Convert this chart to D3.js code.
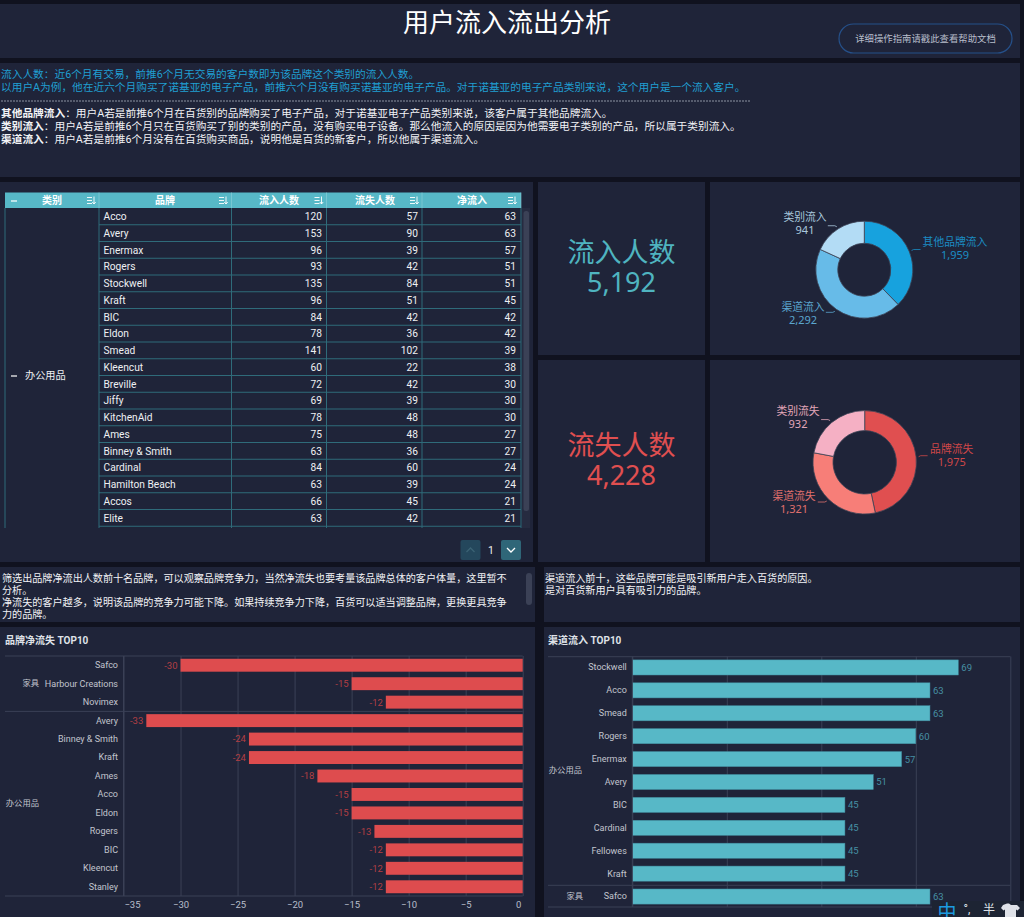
<!DOCTYPE html>
<html lang="zh">
<head>
    <meta charset="UTF-8">
    <title>用户流入流出分析</title>
    <script src="https://d3js.org/d3.v7.min.js"></script>
    <style>
    html, body { margin: 0; background: #10121f; overflow: hidden; }
    svg { display: block; }
    text { font-family: Roboto, "Noto Sans CJK SC", sans-serif; }
    .domain { display: none; }
    </style>
</head>
<body>
<svg id="board" width="1024" height="917"></svg>
<script>
// table
var tableHeaders = ["类别", "品牌", "流入人数", "流失人数", "净流入"];
var tableBrands = ["Acco", "Avery", "Enermax", "Rogers", "Stockwell", "Kraft", "BIC", "Eldon", "Smead", "Kleencut", "Breville", "Jiffy", "KitchenAid", "Ames", "Binney & Smith", "Cardinal", "Hamilton Beach", "Accos", "Elite"];
var tableIn = [120, 153, 96, 93, 135, 96, 84, 78, 141, 60, 72, 69, 78, 75, 63, 84, 63, 66, 63];
var tableOut = [57, 90, 39, 42, 84, 51, 42, 36, 102, 22, 42, 39, 48, 48, 36, 60, 39, 45, 42];
var tableNet = [63, 63, 57, 51, 51, 45, 42, 42, 39, 38, 30, 30, 30, 27, 27, 24, 24, 21, 21];

// donuts
var inLabels = ["其他品牌流入", "渠道流入", "类别流入"];
var inValues = [1959, 2292, 941];
var outLabels = ["品牌流失", "渠道流失", "类别流失"];
var outValues = [1975, 1321, 932];

// bar charts
var lossBrands = ["Safco", "Harbour Creations", "Novimex", "Avery", "Binney & Smith", "Kraft", "Ames", "Acco", "Eldon", "Rogers", "BIC", "Kleencut", "Stanley"];
var lossValues = [-30, -15, -12, -33, -24, -24, -18, -15, -15, -13, -12, -12, -12];
var lossTicks = [-35, -30, -25, -20, -15, -10, -5, 0];
var channelBrands = ["Stockwell", "Acco", "Smead", "Rogers", "Enermax", "Avery", "BIC", "Cardinal", "Fellowes", "Kraft", "Safco"];
var channelValues = [69, 63, 63, 60, 57, 51, 45, 45, 45, 45, 63];
var channelTicks = [0, 20, 40, 60, 80];

var svg = d3.select("#board");
var panelColor = "#1f2439";
var notoFont = '"Noto Sans", "Noto Sans CJK SC", sans-serif';
var fmt = d3.format(",");

// background panels
[[0, 4, 1020, 54], [0, 63, 1020, 114], [0, 182, 533, 380], [538, 182, 167, 173], [710, 182, 310, 173],
 [538, 360, 167, 202], [710, 360, 310, 202], [0, 567, 535, 55], [544, 567, 476, 55], [0, 627, 535, 290], [544, 627, 476, 290]]
.forEach(function (p) {
    svg.append("rect").attr("x", p[0]).attr("y", p[1]).attr("width", p[2]).attr("height", p[3]).attr("fill", panelColor);
});

function label(x, y, str, size, color, anchor, weight) {
    return svg.append("text").attr("x", x).attr("y", y).attr("dy", "0.36em")
        .attr("font-size", size).attr("fill", color)
        .attr("text-anchor", anchor || "start").attr("font-weight", weight || "normal")
        .text(str);
}

// header
label(507, 23, "用户流入流出分析", 26, "#ffffff", "middle");
svg.append("rect").attr("x", 839).attr("y", 24).attr("width", 173).attr("height", 29).attr("rx", 14.5)
    .attr("fill", "none").attr("stroke", "#25508a").attr("stroke-width", 1.2);
label(925.5, 38.5, "详细操作指南请戳此查看帮助文档", 9.4, "#b8becb", "middle");

// explanation
label(1, 74, "流入人数\uFF1A近6个月有交易\uFF0C前推6个月无交易的客户数即为该品牌这个类别的流入人数。", 10.7, "#1f9fd2");
label(1, 87.5, "以用户A为例\uFF0C他在近六个月购买了诺基亚的电子产品\uFF0C前推六个月没有购买诺基亚的电子产品。对于诺基亚的电子产品类别来说\uFF0C这个用户是一个流入客户。", 10.7, "#1f9fd2");
svg.append("line").attr("x1", 1).attr("x2", 750).attr("y1", 101).attr("y2", 101)
    .attr("stroke", "#8d93a3").attr("stroke-dasharray", "2 1");
[["其他品牌流入", "\uFF1A用户A若是前推6个月在百货别的品牌购买了电子产品\uFF0C对于诺基亚电子产品类别来说\uFF0C该客户属于其他品牌流入。", 113],
 ["类别流入", "\uFF1A用户A若是前推6个月只在百货购买了别的类别的产品\uFF0C没有购买电子设备。那么他流入的原因是因为他需要电子类别的产品\uFF0C所以属于类别流入。", 126],
 ["渠道流入", "\uFF1A用户A若是前推6个月没有在百货购买商品\uFF0C说明他是百货的新客户\uFF0C所以他属于渠道流入。", 139]]
.forEach(function (row) {
    var t = label(1, row[2], "", 10.7, "#f2f3f6");
    t.append("tspan").attr("font-weight", "bold").text(row[0]);
    t.append("tspan").text(row[1]);
});

// table
var colEdges = [5, 99, 231.5, 326.5, 422, 521];
var headerTop = 192.5, headerBottom = 208, rowH = 16.75, tableBottom = 528;
var lineColor = "#2f6b7a";
var rowY = d3.scaleLinear().domain([0, 1]).range([headerBottom, headerBottom + rowH]);

svg.append("rect").attr("x", colEdges[0]).attr("y", headerTop).attr("width", colEdges[5] - colEdges[0]).attr("height", headerBottom - headerTop).attr("fill", "#57b8c7");
var headCenter = [52, 165, 279, 375, 472];
var iconX = [91, 223, 318.5, 414, 512];
tableHeaders.forEach(function (h, i) {
    label(headCenter[i], 200.5, h, 10, "#ffffff", "middle", "bold");
    // sort icon
    svg.append("path").attr("d", "M" + (iconX[i] - 4) + " 197.5h5M" + (iconX[i] - 4) + " 200.5h5M" + (iconX[i] - 4) + " 203.5h5M" + (iconX[i] + 3) + " 196.5v7.5m-1.7 -2l1.7 2l1.7 -2")
        .attr("stroke", "#ffffff").attr("stroke-width", 0.9).attr("fill", "none");
    if (i < 5) svg.append("line").attr("x1", colEdges[i + 1]).attr("x2", colEdges[i + 1]).attr("y1", headerTop).attr("y2", headerBottom).attr("stroke", "#8fd2dc").attr("stroke-width", 0.6);
});
svg.append("line").attr("x1", 11).attr("x2", 17).attr("y1", 201).attr("y2", 201).attr("stroke", "#ffffff").attr("stroke-width", 1.2);

var rows = svg.append("g").selectAll("g").data(tableBrands).join("g");
rows.append("line").attr("x1", colEdges[1]).attr("x2", colEdges[5])
    .attr("y1", function (d, i) { return rowY(i + 1); }).attr("y2", function (d, i) { return rowY(i + 1); })
    .attr("stroke", lineColor);
rows.append("text").attr("x", 103.5).attr("y", function (d, i) { return rowY(i + 0.5); }).attr("dy", "0.36em")
    .attr("font-size", 10.2).attr("fill", "#eef0f3").text(function (d) { return d; });
[[tableIn, 322], [tableOut, 418], [tableNet, 516]].forEach(function (col) {
    svg.append("g").selectAll("text").data(col[0]).join("text")
        .attr("x", col[1]).attr("y", function (d, i) { return rowY(i + 0.5); }).attr("dy", "0.36em")
        .attr("font-size", 10.2).attr("fill", "#eef0f3").attr("text-anchor", "end").text(function (d) { return d; });
});
colEdges.forEach(function (x) {
    svg.append("line").attr("x1", x).attr("x2", x).attr("y1", headerBottom).attr("y2", tableBottom).attr("stroke", lineColor);
});
svg.append("line").attr("x1", 11).attr("x2", 17).attr("y1", 376).attr("y2", 376).attr("stroke", "#ffffff").attr("stroke-width", 1.2);
label(25, 375.5, "办公用品", 10.2, "#eef0f3");
svg.append("rect").attr("x", 522).attr("y", 208).attr("width", 8).attr("height", 320).attr("fill", "#262b40");
svg.append("rect").attr("x", 523.5).attr("y", 211).attr("width", 5.5).attr("height", 300).attr("rx", 2.5).attr("fill", "#3b4156");

// pager
svg.append("rect").attr("x", 460.5).attr("y", 540).attr("width", 20).attr("height", 20).attr("rx", 2).attr("fill", "#24475c");
svg.append("path").attr("d", "M466.5 552l4 -4l4 4").attr("fill", "none").attr("stroke", "#3b6274").attr("stroke-width", 1.3);
label(491, 550, "1", 10.5, "#eef0f3", "middle");
svg.append("rect").attr("x", 501).attr("y", 540).attr("width", 20).attr("height", 20).attr("rx", 2).attr("fill", "#2f6678");
svg.append("path").attr("d", "M507 548l4 4l4 -4").attr("fill", "none").attr("stroke", "#ffffff").attr("stroke-width", 1.3);

// KPI
label(621.5, 252, "流入人数", 27, "#4fb4c0", "middle");
label(621.5, 282, fmt(d3.sum(inValues)), 27, "#4fb4c0", "middle").style("font-family", notoFont);
label(621.5, 445, "流失人数", 27, "#e04f50", "middle");
label(621.5, 475, fmt(d3.sum(outValues)), 27, "#e04f50", "middle").style("font-family", notoFont);

// donut
function donut(opts) {
    var g = svg.append("g").attr("transform", "translate(" + opts.cx + "," + opts.cy + ")");
    var pie = d3.pie().sort(null)(opts.values);
    var arc = d3.arc().innerRadius(opts.inner).outerRadius(opts.outer);
    g.selectAll("path.slice").data(pie).join("path").attr("class", "slice")
        .attr("d", arc).attr("fill", function (d, i) { return opts.colors[i]; })
        .attr("stroke", "#3c4256").attr("stroke-width", 0.8);
    pie.forEach(function (d, i) {
        var mid = (d.startAngle + d.endAngle) / 2;
        var r = opts.outer + 2.5;
        var sx = r * Math.sin(mid), sy = -r * Math.cos(mid);
        var side = sx > 0 ? 1 : -1;
        g.append("path").attr("d", "M" + sx + " " + sy + "L" + (sx + side * 2) + " " + (sy + (sy < 0 ? -1 : 1)) + "h" + side * 7)
            .attr("fill", "none").attr("stroke", opts.muted[i]).attr("stroke-width", 0.8);
        label(opts.pos[i][0], opts.pos[i][1], opts.labels[i], 10.8, opts.muted[i], "middle");
        label(opts.pos[i][0], opts.pos[i][1] + 13, fmt(opts.values[i]), 11, opts.muted[i], "middle").style("font-family", notoFont);
    });
}
donut({ cx: 864.3, cy: 269.7, inner: 26.5, outer: 48.5, values: inValues, labels: inLabels,
    colors: ["#17a2de", "#67bbe8", "#b3dcf5"], muted: ["#1b8cc4", "#5ba6cf", "#a9c8dd"],
    pos: [[955, 242], [803, 307], [805, 217]] });
donut({ cx: 864.7, cy: 462.3, inner: 31.7, outer: 51.7, values: outValues, labels: outLabels,
    colors: ["#e04f50", "#f77e78", "#f5b0c4"], muted: ["#cf4748", "#e0706d", "#e2a6b8"],
    pos: [[951.7, 449], [794, 496], [798, 411]] });

// notes above the bars
["筛选出品牌净流出人数前十名品牌\uFF0C可以观察品牌竞争力\uFF0C当然净流失也要考量该品牌总体的客户体量\uFF0C这里暂不", "分析。",
 "净流失的客户越多\uFF0C说明该品牌的竞争力可能下降。如果持续竞争力下降\uFF0C百货可以适当调整品牌\uFF0C更换更具竞争", "力的品牌。"]
.forEach(function (s, i) { label(2, 578 + i * 12, s, 10.1, "#f2f3f6"); });
svg.append("rect").attr("x", 526).attr("y", 573).attr("width", 6).attr("height", 32).attr("rx", 3).attr("fill", "#3b4156");
["渠道流入前十\uFF0C这些品牌可能是吸引新用户走入百货的原因。", "是对百货新用户具有吸引力的品牌。"]
.forEach(function (s, i) { label(545, 578 + i * 12.5, s, 10.1, "#f2f3f6"); });

var axisLine = "#3a4056";

// brand net loss
label(5, 640, "品牌净流失 TOP10", 10, "#dfe2e8", "start", "bold");
var lx = d3.scaleLinear().domain([-35, 0]).range([123.5, 522.7]);
var ly = d3.scaleBand().domain(lossBrands).range([656, 896]).paddingInner(0.3).paddingOuter(0.15);
var lossAxis = svg.append("g").attr("transform", "translate(0,896)")
    .call(d3.axisBottom(lx).tickValues(lossTicks).tickSize(-240).tickPadding(5).tickFormat(d3.format("d")));
lossAxis.selectAll(".tick line").attr("stroke", axisLine);
lossAxis.selectAll(".tick text").attr("fill", "#b8becb").attr("font-size", 9.5)
    .attr("dx", function (d) { return d === -35 ? 8.5 : d === 0 ? -4.5 : 0; });
svg.append("g").selectAll("rect").data(lossValues).join("rect")
    .attr("x", function (d) { return lx(d); })
    .attr("y", function (d, i) { return ly(lossBrands[i]); })
    .attr("width", function (d) { return lx(0) - lx(d); })
    .attr("height", ly.bandwidth())
    .attr("fill", "#de4c4e");
svg.append("g").selectAll("text").data(lossValues).join("text")
    .attr("x", function (d) { return lx(d) - 3; })
    .attr("y", function (d, i) { return ly(lossBrands[i]) + ly.bandwidth() / 2; })
    .attr("dy", "0.36em").attr("text-anchor", "end").attr("font-size", 9.5).attr("fill", "#b23f44")
    .text(function (d) { return d; });
var lossBrandAxis = svg.append("g").attr("transform", "translate(123.5,0)")
    .call(d3.axisLeft(ly).tickSize(0).tickPadding(5.5));
lossBrandAxis.selectAll("text").attr("fill", "#c2c5ce").attr("font-size", 9);
[[5, 522.7, 656, 656], [5, 522.7, 711.4, 711.4], [5, 522.7, 896, 896], [123.5, 123.5, 656, 896]].forEach(function (l) {
    svg.append("line").attr("x1", l[0]).attr("x2", l[1]).attr("y1", l[2]).attr("y2", l[3]).attr("stroke", axisLine);
});
label(39, 683, "家具", 8.3, "#c2c5ce", "end");
label(39, 803, "办公用品", 8.3, "#c2c5ce", "end");

// channel inflow
label(548, 640, "渠道流入 TOP10", 10, "#dfe2e8", "start", "bold");
var cx = d3.scaleLinear().domain([0, 80]).range([632.3, 1010.3]);
var cy = d3.scaleBand().domain(d3.range(channelBrands.length)).range([656, 908]).paddingInner(0.34).paddingOuter(0.17);
var chanAxis = svg.append("g").attr("transform", "translate(0,907)")
    .call(d3.axisBottom(cx).tickValues(channelTicks).tickSize(-250.5).tickFormat(""));
chanAxis.selectAll(".tick line").attr("stroke", axisLine);
svg.append("g").selectAll("rect").data(channelValues).join("rect")
    .attr("x", cx(0))
    .attr("y", function (d, i) { return cy(i); })
    .attr("width", function (d) { return cx(d) - cx(0); })
    .attr("height", cy.bandwidth())
    .attr("fill", "#57b8c7").attr("stroke", "#418a9c").attr("stroke-width", 0.5);
svg.append("g").selectAll("text").data(channelValues).join("text")
    .attr("x", function (d) { return cx(d) + 3; })
    .attr("y", function (d, i) { return cy(i) + cy.bandwidth() / 2; })
    .attr("dy", "0.36em").attr("font-size", 9.5).attr("fill", "#4690a4")
    .text(function (d) { return d; });
var chanBrandAxis = svg.append("g").attr("transform", "translate(632.3,0)")
    .call(d3.axisLeft(cy).tickSize(0).tickPadding(5.5).tickFormat(function (i) { return channelBrands[i]; }));
chanBrandAxis.selectAll("text").attr("fill", "#c2c5ce").attr("font-size", 9);
[[548, 1010.3, 656.7, 656.7], [548, 1010.3, 885.3, 885.3], [548, 1010.3, 907, 907], [632.3, 632.3, 656.7, 907]].forEach(function (l) {
    svg.append("line").attr("x1", l[0]).attr("x2", l[1]).attr("y1", l[2]).attr("y2", l[3]).attr("stroke", axisLine);
});
label(582, 770, "办公用品", 8.3, "#c2c5ce", "end");
label(583, 896.5, "家具", 8.3, "#c2c5ce", "end");

// input method toolbar caught in the screenshot
svg.append("rect").attr("x", 932).attr("y", 901).attr("width", 92).attr("height", 16).attr("fill", "#1d2433");
label(947, 912, "中", 19, "#1c9be0", "middle");
label(967, 909, "°,", 12, "#dfe2e8", "middle");
label(989, 910, "半", 12, "#dfe2e8", "middle");
svg.append("path").attr("d", "M1003 905l4 -1.5h2l2 1.5h2l4 0l3 3l-2.5 2.5l-1.5 -1v7.5h-11v-7.5l-1.5 1l-2.5 -2.5z").attr("fill", "#dfe2e8");
</script>
</body>
</html>
